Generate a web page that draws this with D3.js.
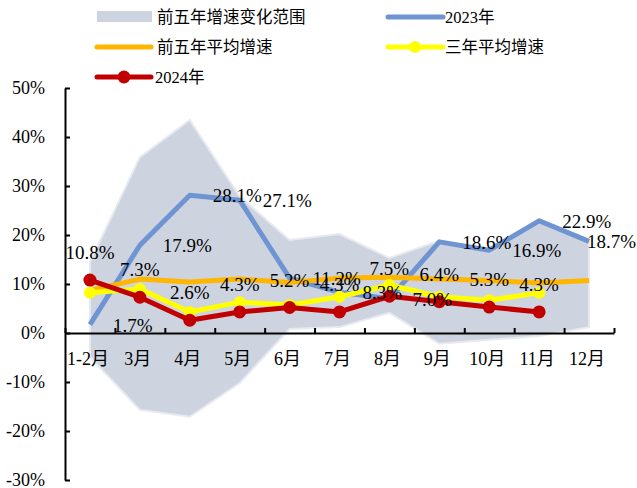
<!DOCTYPE html>
<html>
<head>
<meta charset="utf-8">
<script src="https://cdn.jsdelivr.net/npm/d3@7"></script>
<style>
  body { margin: 0; background: #fff; }
  svg text { font-family: "Liberation Serif", "Noto Sans CJK SC", serif; fill: #000; }
</style>
</head>
<body>
<div id="chart"></div>
<script>
var months = ["1-2月", "3月", "4月", "5月", "6月", "7月", "8月", "9月", "10月", "11月", "12月"];
var rangeHigh = [14.5, 35.9, 43.5, 27.9, 19.0, 20.2, 15.3, 18.8, 16.9, 22.9, 18.7];
var rangeLow = [-4.9, -15.7, -17.1, -10.2, 0.8, 1.2, 4.1, -2.2, -1.4, -0.6, 1.2];
var y2023 = [1.7, 17.9, 28.1, 27.1, 11.2, 8.3, 7.0, 18.6, 16.9, 22.9, 18.7];
var avg5 = [8.7, 11.0, 10.4, 11.0, 10.3, 11.2, 11.4, 11.0, 10.7, 10.2, 10.7];
var avg3 = [8.2, 9.0, 4.3, 6.3, 5.7, 7.4, 9.8, 7.4, 6.7, 8.2];
var y2024 = [10.8, 7.3, 2.6, 4.3, 5.2, 4.3, 7.5, 6.4, 5.3, 4.3];
var yTicks = [-30, -20, -10, 0, 10, 20, 30, 40, 50];

var svgWidth = 637, svgHeight = 488;

var svg = d3.select("#chart").append("svg")
  .attr("width", svgWidth)
  .attr("height", svgHeight);

var x = d3.scaleBand().domain(months).range([65, 614]).padding(0);
var xEdge = d3.scaleLinear().domain([0, months.length]).range([65, 614]);
var y = d3.scaleLinear().domain([-30, 50]).range([480, 88]);

function cx(d, i) { return x(months[i]) + x.bandwidth() / 2; }

// range band
var area = d3.area()
  .x(function(d, i) { return cx(d, i); })
  .y0(function(d, i) { return y(rangeLow[i]); })
  .y1(function(d) { return y(d); });

svg.append("path")
  .datum(rangeHigh)
  .attr("d", area)
  .attr("fill", "#ced4df")
  .attr("stroke", "#e7eaf0")
  .attr("stroke-width", 2);

// axes
svg.append("g")
  .attr("transform", "translate(65,0)")
  .call(d3.axisLeft(y).tickValues(yTicks).tickSize(-5).tickSizeOuter(0).tickPadding(20)
    .tickFormat(function(d) { return d + "%"; }))
  .call(function(g) {
    g.selectAll("line, path").attr("stroke", "#000").attr("stroke-width", 2);
    g.selectAll("text").style("font-size", "18px");
  });

svg.append("g")
  .attr("transform", "translate(0," + y(0) + ")")
  .call(d3.axisBottom(xEdge).ticks(months.length).tickSize(-5).tickSizeOuter(0).tickFormat(""))
  .call(function(g) {
    g.selectAll("line, path").attr("stroke", "#000").attr("stroke-width", 2);
  });

svg.append("g").selectAll("text")
  .data(months)
  .enter().append("text")
  .attr("x", function(d) { return x(d) + x.bandwidth() / 2 - 2; })
  .attr("y", 365)
  .attr("text-anchor", "middle")
  .style("font-size", "18px")
  .text(function(d) { return d; });

var line = d3.line().x(function(d, i) { return cx(d, i); }).y(function(d) { return y(d); });

function drawLine(data, color, w) {
  svg.append("path")
    .datum(data)
    .attr("d", line)
    .attr("fill", "none")
    .attr("stroke", color)
    .attr("stroke-width", w)
    .attr("stroke-linejoin", "round");
}

function drawDots(data, color, r) {
  svg.append("g").selectAll("circle")
    .data(data)
    .enter().append("circle")
    .attr("cx", function(d, i) { return cx(d, i); })
    .attr("cy", function(d) { return y(d); })
    .attr("r", r)
    .attr("fill", color);
}

drawLine(y2023, "#6f94d2", 5);
drawLine(avg5, "#ffb600", 5);
drawLine(avg3, "#ffff00", 5);
drawDots(avg3, "#ffff00", 6);
drawLine(y2024, "#c00000", 5);
drawDots(y2024, "#c00000", 6.5);

// data labels
svg.append("g").selectAll("text")
  .data(y2024)
  .enter().append("text")
  .attr("x", function(d, i) { return cx(d, i); })
  .attr("y", function(d) { return y(d) - 21; })
  .attr("text-anchor", "middle")
  .style("font-size", "19px")
  .text(function(d) { return d.toFixed(1) + "%"; });

// 2023 labels sit right of the point; the last one is pulled back inside the frame
var last = y2023.length - 1;
svg.append("g").selectAll("text")
  .data(y2023)
  .enter().append("text")
  .attr("x", function(d, i) { return i === last ? svgWidth - 1 : cx(d, i) + 23; })
  .attr("y", function(d) { return y(d) + 7; })
  .attr("text-anchor", function(d, i) { return i === last ? "end" : "start"; })
  .style("font-size", "19px")
  .text(function(d) { return d.toFixed(1) + "%"; });

// legend
var legend = svg.append("g").style("font-size", "16.5px");

legend.append("rect").attr("x", 97).attr("y", 11).attr("width", 55).attr("height", 11)
  .attr("fill", "#ced4df");
legend.append("text").attr("x", 157).attr("y", 23).text("前五年增速变化范围");

legend.append("line").attr("x1", 388).attr("x2", 443).attr("y1", 17).attr("y2", 17)
  .attr("stroke", "#6f94d2").attr("stroke-width", 5).attr("stroke-linecap", "round");
legend.append("text").attr("x", 445).attr("y", 23).text("2023年");

legend.append("line").attr("x1", 97).attr("x2", 151).attr("y1", 47).attr("y2", 47)
  .attr("stroke", "#ffb600").attr("stroke-width", 5).attr("stroke-linecap", "round");
legend.append("text").attr("x", 157).attr("y", 53).text("前五年平均增速");

legend.append("line").attr("x1", 388).attr("x2", 443).attr("y1", 47).attr("y2", 47)
  .attr("stroke", "#ffff00").attr("stroke-width", 5).attr("stroke-linecap", "round");
legend.append("circle").attr("cx", 415).attr("cy", 47).attr("r", 6).attr("fill", "#ffff00");
legend.append("text").attr("x", 445).attr("y", 53).text("三年平均增速");

legend.append("line").attr("x1", 97).attr("x2", 151).attr("y1", 77).attr("y2", 77)
  .attr("stroke", "#c00000").attr("stroke-width", 5).attr("stroke-linecap", "round");
legend.append("circle").attr("cx", 124).attr("cy", 77).attr("r", 6.5).attr("fill", "#c00000");
legend.append("text").attr("x", 155).attr("y", 83).text("2024年");
</script>
</body>
</html>
